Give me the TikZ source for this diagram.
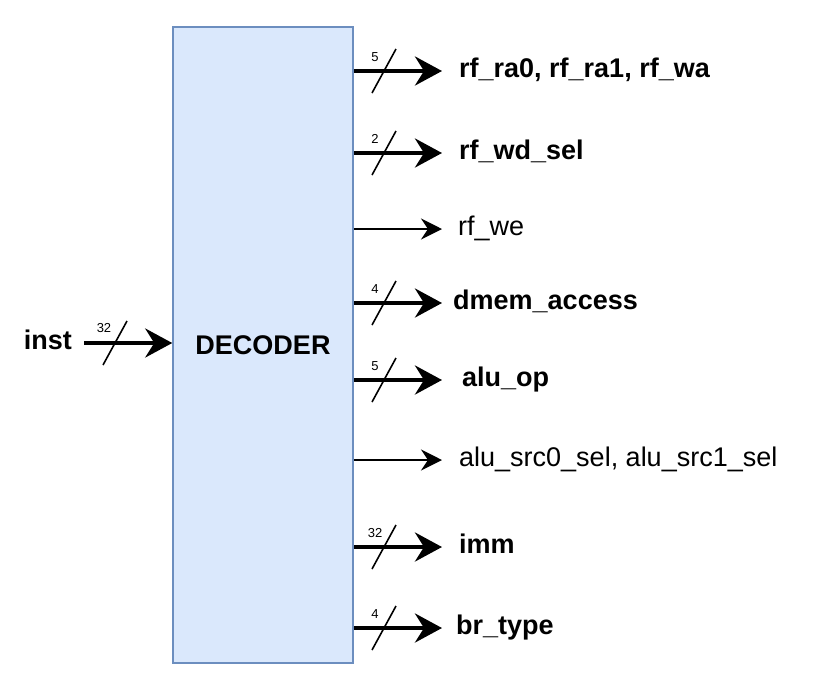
\documentclass[tikz,border=0pt]{standalone}
\usepackage{fontspec}
\setmainfont{Liberation Sans}
\usetikzlibrary{positioning, arrows.meta, calc}

\definecolor{decfill}{HTML}{DAE8FC}
\definecolor{decdraw}{HTML}{6C8EBF}

\begin{document}
\begin{tikzpicture}[x=1pt, y=-1pt,
		busline/.style={draw=black, line width=4pt, -{Stealth[length=27pt, width=29pt, inset=9pt]}},
		sigline/.style={draw=black, line width=1.8pt, -{Stealth[length=21pt, width=21pt, inset=7pt]}},
		slashline/.style={draw=black, line width=1.6pt},
		box/.style={draw=decdraw, fill=decfill, line width=1.5pt, minimum width=180pt, minimum height=636pt, inner sep=0pt, font=\bfseries\fontsize{27}{32}\selectfont},
		sig/.style={anchor=west, inner sep=0pt, text height=19.5pt, text depth=7.5pt, font=\fontsize{27}{32}\selectfont},
		bus/.style={sig, font=\bfseries\fontsize{27}{32}\selectfont},
		bwlabel/.style={inner sep=0pt, font=\fontsize{13}{15}\selectfont}]
		
		\useasboundingbox (0,0) rectangle (838,686);
		
		\node[box] at (263,345) (dec) {DECODER};
		
		\node[bus, anchor=east] at (72,343) (inst) {inst};
		
		\node[bus] at (459,71)  (ra)  {rf\_ra0, rf\_ra1, rf\_wa};
		\node[bus] at (459,153) (wd)  {rf\_wd\_sel};
		\node[sig] at (458,229) (we)  {rf\_we};
		\node[bus] at (453,303) (dm)  {dmem\_access};
		\node[bus] at (462,380) (op)  {alu\_op};
		\node[sig] at (459,460) (src) {alu\_src0\_sel, alu\_src1\_sel};
		\node[bus] at (459,547) (imm) {imm};
		\node[bus] at (456,628) (br)  {br\_type};
		
		\coordinate (tips) at (442,0);
		\coordinate (slashx) at (384,0);
		
		\draw[busline] ([xshift=12pt]inst.east) -- (dec.west |- inst);
		
		\draw[busline] (dec.east |- ra)  -- (tips |- ra);
		\draw[busline] (dec.east |- wd)  -- (tips |- wd);
		\draw[sigline] (dec.east |- we)  -- (tips |- we);
		\draw[busline] (dec.east |- dm)  -- (tips |- dm);
		\draw[busline] (dec.east |- op)  -- (tips |- op);
		\draw[sigline] (dec.east |- src) -- (tips |- src);
		\draw[busline] (dec.east |- imm) -- (tips |- imm);
		\draw[busline] (dec.east |- br)  -- (tips |- br);
		
		% bus widths
		\coordinate (bw) at (115,343);
		\draw[slashline] ([shift={(-12,22)}]bw) -- ([shift={(12,-22)}]bw);
		\node[bwlabel] at ([shift={(-11,-15)}]bw) (bwinst) {32};
		
		\foreach \n/\w in {ra/5, wd/2, dm/4, op/5, imm/32, br/4} {
			\coordinate (bw) at (slashx |- \n);
			\draw[slashline] ([shift={(-12,22)}]bw) -- ([shift={(12,-22)}]bw);
			\node[bwlabel] at ([shift={(-9,-14)}]bw) (bw\n) {\w};
		}
	\end{tikzpicture}
\end{document}
